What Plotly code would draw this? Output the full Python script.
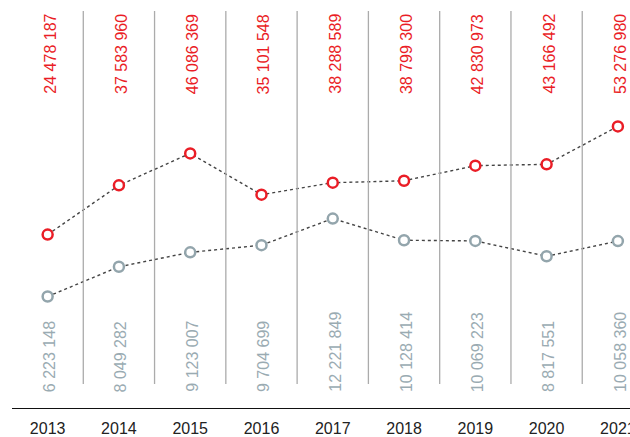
import plotly.graph_objects as go

years = ["2013", "2014", "2015", "2016", "2017", "2018", "2019", "2020", "2021"]
red_values = [24478187, 37583960, 46086369, 35101548, 38288589, 38799300, 42830973, 43166492, 53276980]
grey_values = [6223148, 8049282, 9123007, 9704699, 12221849, 10128414, 10069223, 8817551, 10058360]

RED = "#ea1d26"
GREY = "#93a5ac"
GREY_TXT = "#9aabb2"
FONT = "Liberation Sans, Arial, sans-serif"

W, H = 630, 437
M_T, M_B, M_L, M_R = 11, 29, 12, 0
plot_h = H - M_T - M_B

def fmt(v):
    return f"{v:,}".replace(",", " ")

xs = list(range(len(years)))

fig = go.Figure()
fig.add_trace(go.Scatter(
    x=xs, y=red_values, mode="lines+markers",
    line=dict(color="#444444", width=1.4, dash="dot"),
    marker=dict(symbol="circle", size=10, color="white", line=dict(color=RED, width=2.5)),
    yaxis="y", cliponaxis=False, showlegend=False, hoverinfo="skip"))
fig.add_trace(go.Scatter(
    x=xs, y=grey_values, mode="lines+markers",
    line=dict(color="#444444", width=1.4, dash="dot"),
    marker=dict(symbol="circle", size=10, color="white", line=dict(color=GREY, width=2.5)),
    yaxis="y2", cliponaxis=False, showlegend=False, hoverinfo="skip"))

def py(px):
    return (H - M_B - px) / plot_h

annotations = []
for x, rv, gv in zip(xs, red_values, grey_values):
    annotations.append(dict(x=x, y=py(96), xref="x", yref="paper", text=fmt(rv),
                            textangle=-90, showarrow=False, xanchor="center", yanchor="bottom",
                            xshift=2, font=dict(family=FONT, size=16, color=RED)))
    annotations.append(dict(x=x, y=py(394), xref="x", yref="paper", text=fmt(gv),
                            textangle=-90, showarrow=False, xanchor="center", yanchor="bottom",
                            xshift=2, font=dict(family=FONT, size=16, color=GREY_TXT)))

shapes = []
for x in xs[:-1]:
    shapes.append(dict(type="line", xref="x", yref="paper", x0=x + 0.5, x1=x + 0.5,
                       y0=py(384), y1=1, line=dict(color="#ababab", width=1.3)))

fig.update_layout(
    width=W, height=H,
    margin=dict(t=M_T, b=M_B, l=M_L, r=M_R, pad=0, autoexpand=False),
    paper_bgcolor="white", plot_bgcolor="white",
    xaxis=dict(range=[-0.5, 8.17], tickvals=xs, ticktext=years, showgrid=False, zeroline=False,
               showline=True, linecolor="#111111", linewidth=1.3, automargin=False,
               ticks="outside", ticklen=6, tickcolor="rgba(0,0,0,0)",
               ticklabeloverflow="allow",
               tickfont=dict(family=FONT, size=16, color="#222222")),
    yaxis=dict(range=[-21.68e6, 83.99e6], visible=False, showgrid=False, zeroline=False,
               automargin=False),
    yaxis2=dict(type="log", range=[6.3749, 7.8674], overlaying="y", visible=False,
                showgrid=False, zeroline=False, automargin=False),
    annotations=annotations, shapes=shapes,
)

fig.write_html("out.html")
